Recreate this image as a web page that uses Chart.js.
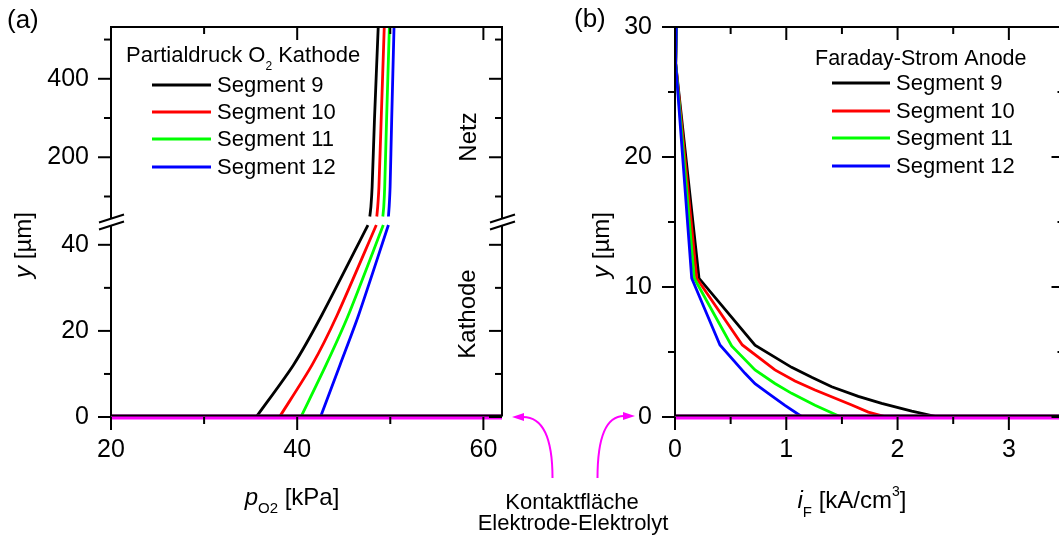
<!DOCTYPE html>
<html>
<head>
<meta charset="utf-8">
<script src="https://cdn.jsdelivr.net/npm/chart.js@4.4.1/dist/chart.umd.min.js"></script>
<style>
  html, body { margin: 0; padding: 0; background: #fff; overflow: hidden; }
  #wrap { position: relative; width: 1059px; height: 542px; overflow: hidden; }
  canvas { position: absolute; left: 0; top: 0; }
</style>
</head>
<body>
<div id="wrap">
  <canvas id="chartA" width="1080" height="542"></canvas>
  <canvas id="chartB" width="1080" height="542"></canvas>
</div>
<script>
const FONT = '"Liberation Sans", Arial, Helvetica, sans-serif';
Chart.defaults.font.family = FONT;

const segmentNames = ["Segment 9", "Segment 10", "Segment 11", "Segment 12"];
const segmentColors = ["#000000", "#ff0000", "#00ff00", "#0000ff"];

// ---------- (a) Partialdruck O2 Kathode ----------
// Kathode part (0..45 µm)
const kathodeY = [0, 12.1, 23.7, 44.6];
const kathodeP9 = [35.6, 39.6, 42.65, 47.6];
const kathodeP10 = [38.1, 41.6, 44.3, 48.5];
const kathodeP11 = [40.4, 43.1, 45.5, 49.25];
const kathodeP12 = [42.5, 44.6, 46.6, 49.8];

// Netz part (above the break)
const netzY = [49, 74, 125, 295, 530];
const netzP9 = [47.8, 47.92, 48.05, 48.3, 48.7];
const netzP10 = [48.55, 48.65, 48.78, 49.02, 49.35];
const netzP11 = [49.2, 49.3, 49.4, 49.6, 49.9];
const netzP12 = [49.8, 49.88, 49.98, 50.15, 50.4];

const contactP = [20, 62];

const pRange = [20, 62];
const pTicks = [20, 40, 60];
const pMinor = [30, 50];
const kathodeRange = [0, 45.3];
const kathodeTicks = [0, 20, 40];
const kathodeMinor = [10, 30];
const netzRange = [35, 532];
const netzTicks = [200, 400];
const netzMinor = [100, 300, 500];

// ---------- (b) Faraday-Strom Anode ----------
const anodeY9 = [30, 27.2, 10.67, 5.52, 3.82, 3.05, 2.33, 1.59, 1.05, 0.46, 0];
const anodeI9 = [0.012, 0.006, 0.216, 0.719, 1.048, 1.228, 1.408, 1.647, 1.857, 2.127, 2.366];
const anodeY10 = [30, 27.2, 10.67, 5.54, 3.62, 2.77, 2.08, 0.92, 0.38, 0];
const anodeI10 = [0.012, 0.006, 0.195, 0.605, 0.898, 1.078, 1.258, 1.588, 1.737, 1.902];
const anodeY11 = [30, 27.2, 10.67, 5.46, 3.62, 2.58, 1.82, 0.9, 0];
const anodeI11 = [0.012, 0.006, 0.173, 0.509, 0.719, 0.898, 1.048, 1.258, 1.491];
const anodeY12 = [30, 27.2, 10.67, 5.54, 3.36, 2.56, 1.82, 0.9, 0];
const anodeI12 = [0.012, 0.006, 0.15, 0.404, 0.629, 0.719, 0.838, 0.988, 1.144];

const contactI = [0, 3.5];

const iRange = [0, 3.5];
const iTicks = [0, 1, 2, 3];
const iMinor = [0.5, 1.5, 2.5];
const anodeRange = [0, 30];
const anodeTicks = [0, 10, 20, 30];
const anodeMinor = [5, 15, 25];

const MAGENTA = "#ff00ff";

// ---------- helpers ----------
function pts(xs, ys) {
  return xs.map((v, i) => ({ x: v, y: ys[i] }));
}

function lineSet(xs, ys, color, yAxisID, order, width, tension) {
  return {
    data: pts(xs, ys),
    borderColor: color,
    borderWidth: width || 2.8,
    pointRadius: 0,
    showLine: true,
    fill: false,
    tension: tension || 0,
    clip: false,
    order: order,
    xAxisID: "x",
    yAxisID: yAxisID
  };
}

function seg(ctx, x1, y1, x2, y2) {
  ctx.beginPath();
  ctx.moveTo(x1, y1);
  ctx.lineTo(x2, y2);
  ctx.stroke();
}

// draws mixed-font runs (italic, sub/superscript) on one baseline
function drawRuns(ctx, runs, x, y, align) {
  let total = 0;
  runs.forEach(r => {
    ctx.font = r.font;
    r.w = ctx.measureText(r.t).width;
    total += r.w;
  });
  let cx = align === "center" ? x - total / 2 : x;
  runs.forEach(r => {
    ctx.font = r.font;
    ctx.fillText(r.t, cx, y + (r.dy || 0));
    cx += r.w;
  });
}

function drawLegend(ctx, x, y0, titleRuns, size, lineX1, lineX2, textX, rowY) {
  ctx.fillStyle = "#000";
  ctx.textAlign = "left";
  ctx.textBaseline = "alphabetic";
  drawRuns(ctx, titleRuns, x, y0, "left");
  ctx.textBaseline = "middle";
  ctx.font = size + "px " + FONT;
  segmentNames.forEach((name, i) => {
    ctx.strokeStyle = segmentColors[i];
    ctx.lineWidth = 3;
    seg(ctx, lineX1, rowY[i], lineX2, rowY[i]);
    ctx.fillText(name, textX, rowY[i] + 1);
  });
}

function yTitle(ctx, cx, cy) {
  ctx.save();
  ctx.translate(cx, cy);
  ctx.rotate(-Math.PI / 2);
  ctx.fillStyle = "#000";
  ctx.textBaseline = "middle";
  drawRuns(ctx, [
    { t: "y", font: "italic 24px " + FONT },
    { t: " [\u00b5m]", font: "24px " + FONT }
  ], 0, 0, "center");
  ctx.restore();
}

function rotText(ctx, text, cx, cy) {
  ctx.save();
  ctx.translate(cx, cy);
  ctx.rotate(-Math.PI / 2);
  ctx.fillStyle = "#000";
  ctx.font = "24px " + FONT;
  ctx.textAlign = "center";
  ctx.textBaseline = "middle";
  ctx.fillText(text, 0, 0);
  ctx.restore();
}

function arrow(ctx, x0, y0, cxp, cyp, x1, y1, dir) {
  ctx.strokeStyle = MAGENTA;
  ctx.fillStyle = MAGENTA;
  ctx.lineWidth = 2;
  ctx.beginPath();
  ctx.moveTo(x0, y0);
  ctx.quadraticCurveTo(cxp, cyp, x1, y1);
  ctx.stroke();
  // head
  ctx.beginPath();
  ctx.moveTo(x1 + dir * 11, y1);
  ctx.lineTo(x1 - dir * 1, y1 - 4);
  ctx.lineTo(x1 - dir * 1, y1 + 4);
  ctx.closePath();
  ctx.fill();
}

function axisCommon(range, labels, pad) {
  return {
    type: "linear",
    min: range[0],
    max: range[1],
    afterBuildTicks: s => { s.ticks = labels.map(v => ({ value: v })); },
    ticks: {
      autoSkip: false,
      maxRotation: 0,
      padding: pad,
      color: "#000",
      font: { size: 25 },
      callback: v => String(v)
    },
    grid: { drawOnChartArea: false, tickLength: 13, color: "transparent", tickColor: "transparent" },
    border: { display: false }
  };
}

// ---------- Panel (a) ----------
const decorA = {
  id: "decorA",
  afterDatasetsDraw(chart) {
    const ctx = chart.ctx;
    const { left: L, right: R, top: T, bottom: B } = chart.chartArea;
    const sx = chart.scales.x, sLow = chart.scales.yLow, sUp = chart.scales.yUp;
    const brk = sLow.top;
    const gap = 3.5;
    ctx.save();
    ctx.strokeStyle = "#000";
    ctx.lineWidth = 2;
    seg(ctx, L - 1, T, R + 1, T);
    seg(ctx, L - 1, B - 1.5, R + 1, B - 1.5);
    [L, R].forEach(ax => {
      seg(ctx, ax, T, ax, brk - gap);
      seg(ctx, ax, brk + gap, ax, B - 1);
    });
    pTicks.forEach(v => {
      const px = sx.getPixelForValue(v);
      seg(ctx, px, B, px, B + 13);
      seg(ctx, px, T, px, T + 13);
    });
    pMinor.forEach(v => {
      const px = sx.getPixelForValue(v);
      seg(ctx, px, B, px, B + 7);
      seg(ctx, px, T, px, T + 7);
    });
    [[sLow, kathodeTicks, kathodeMinor], [sUp, netzTicks, netzMinor]].forEach(([s, maj, mnr]) => {
      maj.forEach(v => {
        const py = s.getPixelForValue(v);
        seg(ctx, L, py, L - 13, py);
        seg(ctx, R, py, R - 13, py);
      });
      mnr.forEach(v => {
        const py = s.getPixelForValue(v);
        seg(ctx, L, py, L - 7, py);
        seg(ctx, R, py, R - 7, py);
      });
    });
    // axis break marks
    [L, R].forEach(ax => {
      [-gap, gap].forEach(d => seg(ctx, ax - 12, brk + d + 4, ax + 13, brk + d - 4));
    });
    ctx.restore();
  },
  afterDraw(chart) {
    const ctx = chart.ctx;
    ctx.save();
    drawLegend(ctx, 126, 62, [
      { t: "Partialdruck O", font: "22px " + FONT },
      { t: "2", font: "12px " + FONT, dy: 8 },
      { t: " Kathode", font: "22px " + FONT }
    ], 22, 152, 211, 217, [85, 112, 139, 167]);

    ctx.fillStyle = "#000";
    ctx.textAlign = "left";
    ctx.textBaseline = "alphabetic";
    ctx.font = "26px " + FONT;
    ctx.fillText("(a)", 7, 28);

    yTitle(ctx, 24, 245);
    rotText(ctx, "Netz", 469, 137);
    rotText(ctx, "Kathode", 468, 314);

    ctx.fillStyle = "#000";
    ctx.textBaseline = "alphabetic";
    drawRuns(ctx, [
      { t: "p", font: "italic 24px " + FONT },
      { t: "O2", font: "15px " + FONT, dy: 8 },
      { t: " [kPa]", font: "24px " + FONT }
    ], 292, 505, "center");
    ctx.restore();
  }
};

const datasetsA = [
  lineSet(contactP, [0, 0], MAGENTA, "yLow", -1, 5),
  lineSet(kathodeP9, kathodeY, segmentColors[0], "yLow", 3, 2.8, 0.25),
  lineSet(kathodeP10, kathodeY, segmentColors[1], "yLow", 2, 2.8, 0.25),
  lineSet(kathodeP11, kathodeY, segmentColors[2], "yLow", 1, 2.8, 0.25),
  lineSet(kathodeP12, kathodeY, segmentColors[3], "yLow", 0, 2.8, 0.25),
  lineSet(netzP9, netzY, segmentColors[0], "yUp", 3, 2.8, 0.2),
  lineSet(netzP10, netzY, segmentColors[1], "yUp", 2, 2.8, 0.2),
  lineSet(netzP11, netzY, segmentColors[2], "yUp", 1, 2.8, 0.2),
  lineSet(netzP12, netzY, segmentColors[3], "yUp", 0, 2.8, 0.2)
];

const xA = axisCommon(pRange, pTicks, 5);
xA.position = "bottom";
xA.afterFit = s => { s.height = 125; };

const yUp = axisCommon(netzRange, netzTicks, 9);
Object.assign(yUp, { position: "left", stack: "a", stackWeight: 1, weight: 2 });
yUp.afterFit = s => { s.width = 111; };

const yLow = axisCommon(kathodeRange, kathodeTicks, 9);
Object.assign(yLow, { position: "left", stack: "a", stackWeight: 1, weight: 1 });
yLow.afterFit = s => { s.width = 111; };

new Chart(document.getElementById("chartA"), {
  type: "scatter",
  data: { datasets: datasetsA },
  options: {
    responsive: false,
    animation: false,
    events: [],
    layout: { padding: { left: 0, top: 27, right: 1080 - 502, bottom: 0 } },
    plugins: { legend: { display: false }, tooltip: { enabled: false } },
    scales: { x: xA, yUp: yUp, yLow: yLow }
  },
  plugins: [decorA]
});

// ---------- Panel (b) ----------
const decorB = {
  id: "decorB",
  afterDatasetsDraw(chart) {
    const ctx = chart.ctx;
    const { left: L, right: R, top: T, bottom: B } = chart.chartArea;
    const sx = chart.scales.x, sy = chart.scales.y;
    ctx.save();
    ctx.strokeStyle = "#000";
    ctx.lineWidth = 2;
    seg(ctx, L - 1, T, R + 1, T);
    seg(ctx, L - 1, B - 1.5, R + 1, B - 1.5);
    seg(ctx, L, T, L, B - 1);
    seg(ctx, R, T, R, B - 1);
    iTicks.forEach(v => {
      const px = sx.getPixelForValue(v);
      seg(ctx, px, B, px, B + 13);
      seg(ctx, px, T, px, T + 13);
    });
    iMinor.forEach(v => {
      const px = sx.getPixelForValue(v);
      seg(ctx, px, B, px, B + 7);
      seg(ctx, px, T, px, T + 7);
    });
    anodeTicks.forEach(v => {
      const py = sy.getPixelForValue(v);
      seg(ctx, L, py, L - 13, py);
      seg(ctx, R, py, R - 13, py);
    });
    anodeMinor.forEach(v => {
      const py = sy.getPixelForValue(v);
      seg(ctx, L, py, L - 7, py);
      seg(ctx, R, py, R - 7, py);
    });
    ctx.restore();
  },
  afterDraw(chart) {
    const ctx = chart.ctx;
    const y0 = chart.scales.y.getPixelForValue(0);
    ctx.save();
    drawLegend(ctx, 815, 65, [
      { t: "Faraday-Strom Anode", font: "21.5px " + FONT }
    ], 22, 832, 890, 896, [83, 111, 138, 166]);

    ctx.fillStyle = "#000";
    ctx.textAlign = "left";
    ctx.textBaseline = "alphabetic";
    ctx.font = "26px " + FONT;
    ctx.fillText("(b)", 574, 27);

    yTitle(ctx, 602, 245);

    ctx.fillStyle = "#000";
    ctx.textBaseline = "alphabetic";
    drawRuns(ctx, [
      { t: "i", font: "italic 24px " + FONT },
      { t: "F", font: "15px " + FONT, dy: 9 },
      { t: " [kA/cm", font: "24px " + FONT },
      { t: "3", font: "14px " + FONT, dy: -12 },
      { t: "]", font: "24px " + FONT }
    ], 852, 508, "center");

    // Kontaktfläche annotation
    ctx.font = "22px " + FONT;
    ctx.textAlign = "center";
    ctx.fillText("Kontaktfl\u00e4che", 572, 509);
    ctx.fillText("Elektrode-Elektrolyt", 573, 530);

    arrow(ctx, 552.5, 478, 552.5, y0, 523, y0, -1);
    arrow(ctx, 597.5, 478, 597.5, y0 - 1, 624, y0 - 1, 1);
    ctx.restore();
  }
};

const datasetsB = [
  lineSet(contactI, [0, 0], MAGENTA, "y", -1, 5),
  lineSet(anodeI9, anodeY9, segmentColors[0], "y", 3),
  lineSet(anodeI10, anodeY10, segmentColors[1], "y", 2),
  lineSet(anodeI11, anodeY11, segmentColors[2], "y", 1),
  lineSet(anodeI12, anodeY12, segmentColors[3], "y", 0)
];

const xB = axisCommon(iRange, iTicks, 5);
xB.position = "bottom";
xB.afterFit = s => { s.height = 125; };

const yB = axisCommon(anodeRange, anodeTicks, 10);
yB.position = "left";
yB.afterFit = s => { s.width = 115; };

new Chart(document.getElementById("chartB"), {
  type: "scatter",
  data: { datasets: datasetsB },
  options: {
    responsive: false,
    animation: false,
    events: [],
    layout: { padding: { left: 560, top: 27, right: 1080 - 1064.5, bottom: 0 } },
    plugins: { legend: { display: false }, tooltip: { enabled: false } },
    scales: { x: xB, y: yB }
  },
  plugins: [decorB]
});
</script>
</body>
</html>
